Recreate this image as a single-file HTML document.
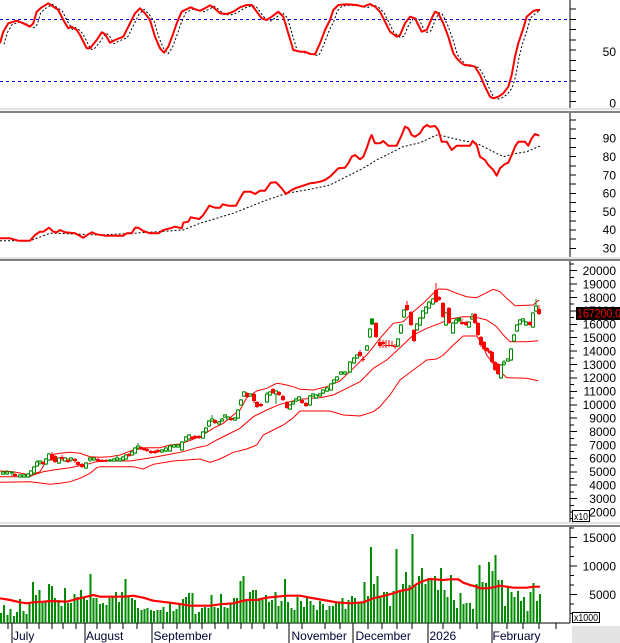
<!DOCTYPE html>
<html><head><meta charset="utf-8"><style>html,body{margin:0;padding:0;background:#fff;}svg{display:block}</style></head>
<body>
<svg width="620" height="643" viewBox="0 0 620 643" font-family="'Liberation Sans', Arial, sans-serif" font-size="12">
<defs>
<clipPath id="c1"><rect x="0" y="0" width="570" height="108"/></clipPath>
<clipPath id="c2"><rect x="0" y="113" width="570" height="144"/></clipPath>
<clipPath id="c3"><rect x="0" y="261" width="570" height="261"/></clipPath>
<clipPath id="c4"><rect x="0" y="527" width="570" height="96"/></clipPath>
</defs>
<rect width="620" height="643" fill="#fff"/>

<!-- separators -->
<g shape-rendering="crispEdges">
<rect x="0" y="108" width="620" height="2" fill="#e2e2e2"/><rect x="0" y="111" width="620" height="2" fill="#808080"/>
<rect x="0" y="257" width="620" height="2" fill="#e2e2e2"/><rect x="0" y="259" width="620" height="2" fill="#808080"/>
<rect x="0" y="522" width="620" height="2" fill="#e2e2e2"/><rect x="0" y="525" width="620" height="2" fill="#808080"/>
<rect x="572" y="626" width="48" height="17" fill="#e4e4e4"/>
</g>

<!-- axis lines -->
<g stroke="#000" stroke-width="1" shape-rendering="crispEdges" fill="none">
<path d="M570 0V108M570 113V257M570 261V522M570 527V623M0 623H570"/>
<path d="M570 101.6h6M570 91.3h6M570 81h6M570 70.7h6M570 60.5h6M570 50.2h6M570 39.9h6M570 29.6h6M570 19.4h6M570 9.1h6"/>
<path d="M570 120h6M570 129.1h6M570 138.3h6M570 147.5h6M570 156.6h6M570 165.8h6M570 175h6M570 184.1h6M570 193.3h6M570 202.5h6M570 211.6h6M570 220.8h6M570 229.9h6M570 239.1h6M570 248.3h6"/>
<path d="M570 264h4M570 270.7h7M570 277.4h4M570 284.1h7M570 290.8h4M570 297.5h7M570 304.2h4M570 310.9h7M570 317.6h4M570 324.3h7M570 331h4M570 337.7h7M570 344.4h4M570 351.1h7M570 357.8h4M570 364.5h7M570 371.2h4M570 377.9h7M570 384.7h4M570 391.4h7M570 398.1h4M570 404.8h7M570 411.5h4M570 418.2h7M570 424.9h4M570 431.6h7M570 438.3h4M570 445h7M570 451.7h4M570 458.4h7M570 465.1h4M570 471.8h7M570 478.5h4M570 485.2h7M570 491.9h4M570 498.6h7M570 505.3h4M570 512h7M570 518.7h4"/>
<path d="M570 613.5h4M570 604h4M570 594.5h7M570 585h4M570 575.5h4M570 566h7M570 556.5h4M570 547h4M570 537.5h7M570 528h4"/>
<path d="M12 623V643M85 623V643M152 623V643M289 623V643M353 623V643M428 623V643M492 623V643"/>
<path d="M8 623v6M27 623v6M39 623v6M52 623v6M63 623v6M76 623v6M97 623v6M110 623v6M123 623v6M137 623v6M163 623v6M177 623v6M190 623v6M202 623v6M215 623v6M228 623v6M241 623v6M252 623v6M264 623v6M277 623v6M302 623v6M325 623v6M340 623v6M368 623v6M382 623v6M397 623v6M412 623v6M443 623v6M460 623v6M477 623v6M507 623v6M523 623v6M539 623v6M556 623v6"/>
</g>

<!-- Panel 1: stochastic -->
<g clip-path="url(#c1)">
<path d="M0 19.5H570M0 81.5H570" stroke="#0000c8" stroke-width="1" stroke-dasharray="3 3"/>
<polyline transform="translate(4,1)" fill="none" stroke="#000" stroke-width="1" stroke-dasharray="2 2" points="0,43.3 3.3,31.7 8.3,23.3 16.7,20.7 23.3,23.3 30,26.7 33.3,23.3 36.7,11.7 41.7,7.3 48.3,3.3 53.3,6.7 58.3,10 63.3,20 68.3,28.3 71.7,26.7 76.7,30 80,35 86.7,48.3 90,48.3 96.7,40 101.7,32.3 105,34 110,42.7 115,40 123.3,36.7 130,23.3 135,13.3 140,8.3 145,13.3 150,20 155,36.7 160,48.3 164,52.7 168.3,46.7 173.3,33.3 176.7,23.3 181.7,11.7 185,10 190.7,7.3 195,9.3 200,10.7 205,8.3 210,5.3 213.3,7.3 220,13.3 226.7,14 233.3,11.7 240,7.3 246.7,5 251.7,5 256.7,11.7 261.7,18.3 266.7,20 271.7,16.7 278.3,11.7 283.3,16.7 288.3,33.3 293.3,50 300,51.7 305,51.7 310,54 315,54.3 320,43.3 325,30 330,20 333.3,10 338.3,5 346.7,4.3 356.7,5 363.3,6.7 370,4 375,6.7 380,11.7 385,21.7 390,31.7 396.7,36.7 400,35 405,23.3 410,16.7 415,18.3 418.3,25 421.7,31.7 426.7,30 431.7,18.3 435,11.7 438.3,13.3 443.3,23.3 448.3,36.7 453.3,53.3 456.7,58.3 461.7,63.3 465,65.3 470,65.3 475,66.7 480,75 485,86.7 490,96.7 493.3,98.3 498.3,96.7 503.3,93.3 508.3,86.7 511.7,75 515,56.7 518.3,43.3 523.3,28.3 526.7,16.7 533.3,11 536,10"/>
<polyline fill="none" stroke="#ff0000" stroke-width="2" stroke-linejoin="round" points="0,43.3 3.3,31.7 8.3,23.3 16.7,20.7 23.3,23.3 30,26.7 33.3,23.3 36.7,11.7 41.7,7.3 48.3,3.3 53.3,6.7 58.3,10 63.3,20 68.3,28.3 71.7,26.7 76.7,30 80,35 86.7,48.3 90,48.3 96.7,40 101.7,32.3 105,34 110,42.7 115,40 123.3,36.7 130,23.3 135,13.3 140,8.3 145,13.3 150,20 155,36.7 160,48.3 164,52.7 168.3,46.7 173.3,33.3 176.7,23.3 181.7,11.7 185,10 190.7,7.3 195,9.3 200,10.7 205,8.3 210,5.3 213.3,7.3 220,13.3 226.7,14 233.3,11.7 240,7.3 246.7,5 251.7,5 256.7,11.7 261.7,18.3 266.7,20 271.7,16.7 278.3,11.7 283.3,16.7 288.3,33.3 293.3,50 300,51.7 305,51.7 310,54 315,54.3 320,43.3 325,30 330,20 333.3,10 338.3,5 346.7,4.3 356.7,5 363.3,6.7 370,4 375,6.7 380,11.7 385,21.7 390,31.7 396.7,36.7 400,35 405,23.3 410,16.7 415,18.3 418.3,25 421.7,31.7 426.7,30 431.7,18.3 435,11.7 438.3,13.3 443.3,23.3 448.3,36.7 453.3,53.3 456.7,58.3 461.7,63.3 465,65.3 470,65.3 475,66.7 480,75 485,86.7 490,96.7 493.3,98.3 498.3,96.7 503.3,93.3 508.3,86.7 511.7,75 515,56.7 518.3,43.3 523.3,28.3 526.7,16.7 533.3,11 536.7,10 540,10"/>
</g>

<!-- Panel 2: RSI -->
<g clip-path="url(#c2)">
<polyline fill="none" stroke="#000" stroke-width="1" stroke-dasharray="2 2" points="0,240.7 30,240.7 50,233.3 56.7,233.3 100,235 133,233.3 183,230 200,223.3 233,213.3 266.7,200 286.7,193.3 310,189.3 330,185 343,178.3 363,168.3 376.7,160 403,146.7 420,142.7 436.7,135 443.3,136 460,140 476.7,143.3 493.3,151.7 503.3,156.7 516.7,153.3 526.7,151.7 540,146"/>
<polyline fill="none" stroke="#ff0000" stroke-width="2" stroke-linejoin="round" points="0,238.3 10,238.3 18.3,240.7 30,240.7 35,235 40,231.7 43.3,231.7 49,227.7 53.3,231.7 56.7,232.3 60,230 65,232.3 75,233.3 78.3,235 83.3,237.7 88.3,234.3 91.7,232.3 96.7,234.3 105,235.7 123.3,235.7 126.7,233.3 131.7,233.3 135,227.7 138.3,227.7 143.3,231 150,233.3 158.3,233.3 163.3,230 170,228.3 175,226.7 181.7,228.3 183.3,222.7 188.3,221.7 190.7,217.3 199.3,219 203.3,215 209.3,205.7 215,207.7 220,207.7 222.7,204.3 228.3,205.7 236,205.7 240,198.3 244,191.7 250.7,191.7 255,194 260,190.7 265,190.7 270.7,182.7 276,182.3 281.7,188.3 286,194 290,191 295,188.3 300,186.7 310,183.3 315,182.7 320,181.7 325,180 330,176.7 335,171.7 338.3,168.3 345,167.7 348.3,163.3 351.7,156.7 355,155 360,159.3 363.3,156.7 366.7,148.3 370,138.3 371.7,135 375,143.3 380,143.3 383.3,141 388.3,145.7 396.7,145.7 401.7,135 405,126.7 408.3,128.3 411.7,135 415,136.7 420,133.3 423.3,127.7 426.7,125 430,126.7 435,126 438.3,130 441.7,141.7 446.7,141.7 451.7,150 456.7,145.7 470,145.7 472.7,141 476.7,145 480,156.7 485,160 488.3,165 493.3,170 496.7,175.7 500,168.3 505,164 508.3,162.7 511.7,155 515,146.7 518.3,141.7 525,141.7 528.3,145.7 531.7,138.3 535,134 539.3,135.7"/>
</g>

<!-- Panel 3: price -->
<g clip-path="url(#c3)">
<g fill="none" stroke="#ff0000" stroke-width="1">
<polyline points="0,471 13.3,471.7 30,475 40,471.7 50,455 60,453.3 70,452.3 80,453.3 90,456.7 100,457.3 110,456.7 120,455 133.3,450 146.7,447.7 160,447.7 170,445 180,444 186.7,441.7 200,436.7 213.3,428.3 223.3,423.3 233.3,415 240,410 246.7,397.7 256.7,391 266.7,388.3 276.7,383.3 283.3,384.3 293.3,386.7 300,389.3 313.3,390 326.7,386.7 340,381 353.3,368.3 366.7,355 380,338.3 393.3,323.3 403.3,321.7 413.3,311.7 423.3,303.3 433.3,293.3 438.3,289 446.7,289.3 456.7,293.3 466.7,296.7 476.7,297.7 483.3,294.3 493.3,289.3 500,291.7 506.7,298.3 515,305.7 533.3,305 536.7,301.7 539.3,300"/>
<polyline points="0,476.7 30,476.7 33.3,475 43.3,471.7 53.3,470 70,467.7 86.7,464.3 96.7,461.7 110,461 130,461 143.3,459 156.7,456.7 170,454.3 183.3,451.7 196.7,447.7 206.7,445.7 216.7,440 226.7,435 240,428.3 253.3,416.7 266.7,410 280,404.3 290,401.7 300,399.3 320,397.7 333.3,395 346.7,388.3 360,381.7 373.3,368.3 386.7,360 400,347.7 413.3,335 426.7,328.3 440,323.3 450,319 463.3,316.7 473.3,316.7 486.7,320 496.7,326.7 503.3,335 510,341.7 526.7,341.7 538.3,340.7"/>
<polyline points="0,482.3 30,481.7 50,484.3 60,483.3 70,481.7 80,478.3 90,473.3 96.7,467.7 100,466.7 133.3,466.7 143.3,469 153.3,464.3 173.3,461 200,459 210,462.3 220,459 233.3,452.3 246.7,449 256.7,445 263.3,435 273.3,430 283.3,425 293.3,417.7 300,411 330,411 343.3,415 360,416 373.3,411.7 380,406.7 390,395 400,380 413.3,370 426.7,360 436.7,359 443.3,355 453.3,345 463.3,336 476.7,336 481.7,343.3 486.7,355 496.7,368.3 506.7,377.7 526.7,378.3 538.3,380.7"/>
</g>
<g shape-rendering="crispEdges">
<path fill="none" stroke="#008c00" stroke-width="1" d="M3 471V475M7 470V475M12 471V476M20 474V478M24 474V478M28 473V478M31 470V476M34 466V474M37 460V467M40 460V465M46 458V465M49 453V461M59 457V464M65 457V462M71 457V462M86 462V469M90 457V462M94 457V461M110 459V462M114 458V462M117 455V461M120 458V462M123 456V461M126 454V460M132 451V456M135 447V454M138 443V450M162 449V453M166 447V452M170 445V452M174 444V448M178 444V448M182 441V451M186 436V442M189 434V440M203 431V439M206 427V433M209 420V427M212 415V422M219 421V425M222 418V422M225 414V418M228 416V420M235 417V421M238 409V419M241 399V406M244 391V397M250 393V397M267 392V403M270 391V396M276 390V404M290 404V410M293 401V405M296 398V402M299 396V401M310 395V406M313 393V397M316 394V399M320 393V397M323 389V394M327 387V392M331 383V391M334 379V384M337 376V381M341 371V375M345 371V375M350 361V373M354 357V364M357 354V359M367 345V351M370 328V338M372 318V325M398 338V347M401 324V334M404 309V318M417 323V331M420 317V326M423 310V319M426 306V314M429 301V309M433 298V305M446 312V326M453 322V334M456 318V324M459 317V322M469 321V328M472 313V320M501 364V379M504 360V366M508 358V362M511 348V361M514 334V342M517 324V332M520 319V325M523 318V322M526 321V326M533 312V328M536 299V312"/>
<path fill="#fff" stroke="#008c00" stroke-width="1" d="M1.5 472h3V474h-3zM5.5 472h3V474h-3zM10.5 472h3V473h-3zM18.5 475h3V477h-3zM22.5 475h3V477h-3zM26.5 474h3V477h-3zM29.5 471h3V475h-3zM32.5 467h3V473h-3zM35.5 462h3V466h-3zM38.5 461h3V463h-3zM44.5 459h3V464h-3zM47.5 454h3V460h-3zM57.5 458h3V463h-3zM63.5 458h3V461h-3zM69.5 458h3V460h-3zM84.5 463h3V468h-3zM88.5 458h3V460h-3zM92.5 458h3V460h-3zM108.5 460h3V461h-3zM112.5 459h3V461h-3zM115.5 458h3V460h-3zM118.5 459h3V461h-3zM121.5 457h3V460h-3zM124.5 455h3V459h-3zM130.5 452h3V455h-3zM133.5 448h3V453h-3zM136.5 446h3V448h-3zM160.5 450h3V452h-3zM164.5 448h3V451h-3zM168.5 446h3V451h-3zM172.5 445h3V447h-3zM176.5 445h3V447h-3zM180.5 442h3V450h-3zM184.5 437h3V441h-3zM187.5 435h3V439h-3zM201.5 432h3V438h-3zM204.5 428h3V432h-3zM207.5 421h3V426h-3zM210.5 419h3V421h-3zM217.5 422h3V424h-3zM220.5 419h3V421h-3zM223.5 415h3V417h-3zM226.5 417h3V419h-3zM233.5 418h3V420h-3zM236.5 410h3V418h-3zM239.5 400h3V405h-3zM242.5 392h3V396h-3zM248.5 394h3V396h-3zM265.5 394h3V402h-3zM268.5 392h3V395h-3zM274.5 391h3V394h-3zM288.5 405h3V409h-3zM291.5 402h3V404h-3zM294.5 399h3V401h-3zM297.5 397h3V400h-3zM308.5 396h3V405h-3zM311.5 394h3V396h-3zM314.5 395h3V398h-3zM318.5 394h3V396h-3zM321.5 390h3V393h-3zM325.5 388h3V391h-3zM329.5 384h3V390h-3zM332.5 380h3V383h-3zM335.5 377h3V380h-3zM339.5 372h3V374h-3zM343.5 372h3V374h-3zM348.5 362h3V372h-3zM352.5 358h3V363h-3zM355.5 355h3V358h-3zM365.5 346h3V350h-3zM368.5 329h3V337h-3zM396.5 339h3V346h-3zM399.5 325h3V333h-3zM402.5 310h3V317h-3zM415.5 324h3V330h-3zM418.5 318h3V325h-3zM421.5 311h3V318h-3zM424.5 307h3V313h-3zM427.5 302h3V308h-3zM431.5 299h3V304h-3zM444.5 313h3V325h-3zM451.5 323h3V333h-3zM454.5 320h3V323h-3zM467.5 322h3V327h-3zM470.5 317h3V319h-3zM499.5 365h3V378h-3zM502.5 362h3V364h-3zM506.5 359h3V361h-3zM509.5 349h3V360h-3zM512.5 335h3V341h-3zM515.5 325h3V331h-3zM518.5 320h3V324h-3zM521.5 319h3V321h-3zM524.5 322h3V325h-3zM531.5 313h3V327h-3zM534.5 306h3V311h-3z"/>
<path fill="#008c00" stroke="#008c00" stroke-width="1" d="M370.5 319h3V324h-3zM457.5 318h3V321h-3z"/>
<path fill="none" stroke="#ff0000" stroke-width="1" d="M15 473V477M43 461V465M52 452V461M55 455V463M62 455V461M68 458V463M75 458V463M78 461V466M82 463V468M98 458V462M102 459V462M106 459V462M129 453V457M141 446V450M144 447V451M147 448V452M151 450V454M155 450V454M158 449V453M192 436V440M195 435V439M199 435V439M215 419V424M231 417V421M247 392V398M254 393V403M257 401V408M261 403V407M273 388V394M279 391V396M283 395V401M287 401V409M302 399V404M306 402V407M360 350V357M363 356V362M376 322V338M380 339V348M383 340V348M386 340V348M389 340V347M392 341V347M395 344V349M407 301V311M411 311V326M414 329V342M436 283V303M439 296V301M443 302V318M449 307V324M462 319V325M466 321V326M475 313V324M478 322V336M481 336V347M484 341V350M487 347V352M490 350V354M492 351V363M495 361V371M498 363V375M530 321V326M539 305V315"/>
<path fill="#ff0000" d="M13 474h4V476h-4zM41 462h4V464h-4zM50 454h4V460h-4zM53 456h4V462h-4zM60 457h4V459h-4zM66 460h4V462h-4zM73 459h4V461h-4zM76 462h4V465h-4zM80 464h4V467h-4zM96 459h4V461h-4zM100 460h4V461h-4zM104 460h4V461h-4zM127 454h4V456h-4zM139 447h4V449h-4zM142 448h4V450h-4zM145 449h4V451h-4zM149 451h4V453h-4zM153 451h4V453h-4zM156 450h4V452h-4zM190 437h4V439h-4zM193 436h4V438h-4zM197 436h4V438h-4zM213 420h4V423h-4zM229 418h4V420h-4zM245 393h4V397h-4zM252 394h4V401h-4zM255 402h4V407h-4zM259 404h4V406h-4zM271 389h4V393h-4zM277 392h4V395h-4zM281 396h4V400h-4zM285 402h4V408h-4zM300 400h4V403h-4zM304 403h4V406h-4zM358 352h4V356h-4zM361 359h4V360h-4zM374 323h4V337h-4zM378 342h4V346h-4zM381 342h4V344h-4zM384 345h4V346h-4zM387 345h4V346h-4zM390 345h4V346h-4zM393 346h4V347h-4zM405 305h4V310h-4zM409 312h4V325h-4zM412 330h4V341h-4zM434 290h4V302h-4zM437 297h4V300h-4zM441 303h4V317h-4zM447 308h4V323h-4zM460 322h4V324h-4zM464 322h4V325h-4zM473 314h4V323h-4zM476 323h4V335h-4zM479 337h4V345h-4zM482 342h4V349h-4zM485 348h4V351h-4zM488 351h4V353h-4zM490 352h4V362h-4zM493 362h4V370h-4zM496 364h4V374h-4zM528 322h4V325h-4zM537 309h4V314h-4z"/>
</g>
</g>

<!-- Panel 4: volume -->
<g clip-path="url(#c4)">
<path fill="none" stroke="#008c00" stroke-width="2" shape-rendering="crispEdges" d="M1 623v-10m3.19 10v-18m3.19 18v-8m3.19 8v-14m3.19 14v-7m3.19 7v-11m3.19 11v-24m3.19 24v-12m3.19 12v-9m3.19 9v-19m3.19 19v-41m3.19 41v-28m3.19 28v-33m3.19 33v-20m3.19 20v-21m3.19 21v-39m3.19 39v-37m3.19 37v-25m3.19 25v-23m3.19 23v-17m3.19 17v-35m3.19 35v-20m3.19 20v-20m3.19 20v-29m3.19 29v-26m3.19 26v-33m3.19 33v-25m3.19 25v-23m3.19 23v-49m3.19 49v-25m3.19 25v-25m3.19 25v-19m3.19 19v-20m3.19 20v-18m3.19 18v-25m3.19 25v-26m3.19 26v-31m3.19 31v-21m3.19 21v-31m3.19 31v-44m3.19 44v-27m3.19 27v-25m3.19 25v-23m3.19 23v-15m3.19 15v-13m3.19 13v-14m3.19 14v-15m3.19 15v-13m3.19 13v-12m3.19 12v-13m3.19 13v-13m3.19 13v-16m3.19 16v-11m3.19 11v-20m3.19 20v-12m3.19 12v-14m3.19 14v-19m3.19 19v-24m3.19 24v-26m3.19 26v-30m3.19 30v-30m3.19 30v-9m3.19 9v-11m3.19 11v-15m3.19 15v-16m3.19 16v-15m3.19 15v-28m3.19 28v-16m3.19 16v-15m3.19 15v-29m3.19 29v-16m3.19 16v-15m3.19 15v-20m3.19 20v-25m3.19 25v-25m3.19 25v-42m3.19 42v-47m3.19 47v-22m3.19 22v-31m3.19 31v-33m3.19 33v-33m3.19 33v-25m3.19 25v-23m3.19 23v-28m3.19 28v-21m3.19 21v-23m3.19 23v-31m3.19 31v-17m3.19 17v-22m3.19 22v-44m3.19 44v-21m3.19 21v-15m3.19 15v-13m3.19 13v-26m3.19 26v-22m3.19 22v-16m3.19 16v-25m3.19 25v-22m3.19 22v-18m3.19 18v-13m3.19 13v-22m3.19 22v-19m3.19 19v-13m3.19 13v-17m3.19 17v-17m3.19 17v-20m3.19 20v-20m3.19 20v-25m3.19 25v-14m3.19 14v-23m3.19 23v-27m3.19 27v-25m3.19 25v-20m3.19 20v-21m3.19 21v-41m3.19 41v-27m3.19 27v-76m3.19 76v-39m3.19 39v-47m3.19 47v-26m3.19 26v-31m3.19 31v-31m3.19 31v-17m3.19 17v-32m3.19 32v-74m3.19 74v-31m3.19 31v-39m3.19 39v-51m3.19 51v-38m3.19 38v-89m3.19 89v-38m3.19 38v-47m3.19 47v-55m3.19 55v-39m3.19 39v-45m3.19 45v-43m3.19 43v-47m3.19 47v-33m3.19 33v-55m3.19 55v-33m3.19 33v-26m3.19 26v-48m3.19 48v-23m3.19 23v-15m3.19 15v-30m3.19 30v-19m3.19 19v-20m3.19 20v-20m3.19 20v-14m3.19 14v-39m3.19 39v-58m3.19 58v-41m3.19 41v-40m3.19 40v-61m3.19 61v-52m3.19 52v-68m3.19 68v-43m3.19 43v-43m3.19 43v-17m3.19 17v-35m3.19 35v-31m3.19 31v-26m3.19 26v-32m3.19 32v-22m3.19 22v-26m3.19 26v-12m3.19 12v-31m3.19 31v-40m3.19 40v-22m3.19 22v-29"/>
<polyline fill="none" stroke="#ff0000" stroke-width="2.2" stroke-linejoin="round" points="0,598.3 10,600 20,602.3 26.7,603.3 33.3,602.3 43.3,601.7 50,601 66.7,601.7 76.7,599 86.7,596.7 93.3,595 100,596.7 123.3,596.7 133.3,595.7 143.3,597.7 153.3,600.7 166.7,602.3 180,604 190,605.7 210,605.7 220,604.3 233.3,603.3 246.7,600 256.7,600 266.7,597.7 276.7,596.7 286.7,595.7 300,595.7 310,597.7 323.3,600 336.7,602.3 350,603.3 363.3,602.3 373.3,598.3 383.3,596 393.3,593.3 400,591 410,589 416.7,584 423.3,581 430,579 443.3,580 450,579.3 458.3,579.3 463.3,582.7 470,585 476.7,586.7 480,588.3 486.7,588.3 493.3,587.3 500,585.7 506.7,586.7 513.3,587.7 526.7,587.7 533.3,586.7 540,586.7"/>
</g>

<!-- Right axis labels -->
<g fill="#000" text-anchor="end">
<text x="616" y="56">50</text>
<text x="616" y="107.3">0</text>
<text x="616" y="142.6">90</text>
<text x="616" y="160.9">80</text>
<text x="616" y="179.3">70</text>
<text x="616" y="197.6">60</text>
<text x="616" y="215.9">50</text>
<text x="616" y="234.2">40</text>
<text x="616" y="252.6">30</text>
<text x="616" y="275">20000</text>
<text x="616" y="288.4">19000</text>
<text x="616" y="301.8">18000</text>
<text x="616" y="315.2">17000</text>
<text x="616" y="328.6">16000</text>
<text x="616" y="342">15000</text>
<text x="616" y="355.4">14000</text>
<text x="616" y="368.8">13000</text>
<text x="616" y="382.2">12000</text>
<text x="616" y="395.7">11000</text>
<text x="616" y="409.1">10000</text>
<text x="616" y="422.5">9000</text>
<text x="616" y="435.9">8000</text>
<text x="616" y="449.3">7000</text>
<text x="616" y="462.7">6000</text>
<text x="616" y="476.1">5000</text>
<text x="616" y="489.5">4000</text>
<text x="616" y="502.9">3000</text>
<text x="616" y="516.3">2000</text>
<text x="616" y="541.8">15000</text>
<text x="616" y="570.3">10000</text>
<text x="616" y="598.8">5000</text>
</g>

<!-- last price tag -->
<rect x="576" y="307" width="44" height="13" fill="#000"/>
<text x="577" y="317.5" fill="#ff0000" textLength="44" lengthAdjust="spacingAndGlyphs">167200.0</text>

<!-- multiplier boxes -->
<rect x="572.5" y="510.5" width="17" height="11" fill="#fff" stroke="#000" stroke-width="1" shape-rendering="crispEdges"/>
<text x="574" y="520" font-size="10" fill="#000" textLength="14" lengthAdjust="spacingAndGlyphs">x10</text>
<rect x="572.5" y="612.5" width="27" height="10" fill="#fff" stroke="#000" stroke-width="1" shape-rendering="crispEdges"/>
<text x="574" y="621" font-size="10" fill="#000" textLength="24" lengthAdjust="spacingAndGlyphs">x1000</text>

<!-- month labels -->
<g fill="#000033">
<text x="13" y="640">July</text>
<text x="86" y="640">August</text>
<text x="153.5" y="640">September</text>
<text x="291.5" y="640">November</text>
<text x="355.5" y="640">December</text>
<text x="429.5" y="640">2026</text>
<text x="492.5" y="640">February</text>
</g>
</svg>
</body></html>
